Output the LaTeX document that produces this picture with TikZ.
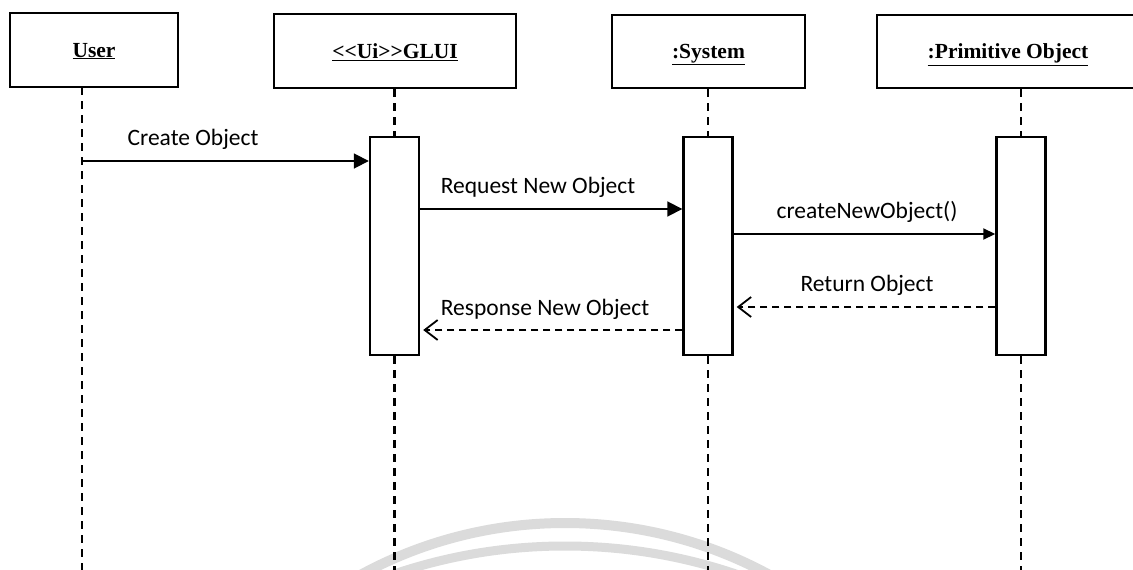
\documentclass[tikz,border=0pt]{standalone}
\usepackage{fontspec}
\setmainfont{Liberation Serif}
\newfontfamily\lab{Carlito}
\usetikzlibrary{arrows.meta}
\begin{document}
\begin{tikzpicture}[x=1pt,y=-1pt,
  hbox/.style={draw,line width=2.4pt,inner sep=0pt,text depth=0pt,font=\fontsize{21.5}{21.5}\selectfont\bfseries},
  act/.style={draw,line width=2.4pt,fill=white,minimum width=49pt,minimum height=218pt,inner sep=0pt},
  life/.style={line width=2.2pt,dash pattern=on 8pt off 6pt},
  msg/.style={line width=1.8pt,-{Triangle[length=15pt,width=15pt]}},
  msgs/.style={line width=1.8pt,-{Triangle[length=12pt,width=11pt]}},
  ret/.style={line width=1.8pt,dash pattern=on 7pt off 5pt,shorten >=3pt,-{Straight Barb[length=13pt,width=20pt,line width=1.8pt]}},
  lbl/.style={font=\lab\fontsize{23.5}{23.5}\selectfont,inner sep=0pt,anchor=base},
  wm/.style={draw=black!14}]
\useasboundingbox (0,0) rectangle (1133,570);
\clip (0,0) rectangle (1133,570);
\fill[white] (0,0) rectangle (1133,570);
% watermark arcs
\draw[wm,line width=10pt] (565,951) circle[radius=428pt];
\draw[wm,line width=9pt] (565,1078) circle[radius=532pt];
% header boxes
\node[hbox,minimum width=168pt,minimum height=74pt] (user) at (94,50) {\underline{User}};
\node[hbox,minimum width=242pt,minimum height=74pt] (glui) at (395,51) {\underline{{<}{<}Ui{>}{>}GLUI}};
\node[hbox,minimum width=193pt,minimum height=73pt] (sys) at (708.5,51.5) {\underline{:System}};
\node[hbox,minimum width=262pt,minimum height=73pt] (prim) at (1008,51.5) {\underline{:Primitive Object}};
% activations
\node[act] (a1) at (394.5,246) {};
\node[act] (a2) at (708,246) {};
\node[act] (a3) at (1021,246) {};
% lifeline coordinates
\coordinate (utop) at (82,87);
\coordinate (ubot) at (82,570);
\coordinate (gbot) at (394.5,570);
\coordinate (sbot) at (708,570);
\coordinate (pbot) at (1021,570);
\draw[life] (utop) -- (ubot);
\draw[life] (a1.north |- glui.south) -- (a1.north);
\draw[life] (a1.south) -- (gbot);
\draw[life] (a2.north |- sys.south) -- (a2.north);
\draw[life] (a2.south) -- (sbot);
\draw[life] (a3.north |- prim.south) -- (a3.north);
\draw[life] (a3.south) -- (pbot);
% messages
\draw[msg] (utop |- 0,161) -- (a1.west |- 0,161);
\draw[msg] (a1.east |- 0,209) -- (a2.west |- 0,209);
\draw[msgs] (a2.east |- 0,234) -- (a3.west |- 0,234);
\draw[ret] (a3.west |- 0,307) -- (a2.east |- 0,307);
\draw[ret] (a2.west |- 0,330) -- (a1.east |- 0,330);
% labels
\node[lbl] (l1) at (193,145) {Create Object};
\node[lbl] (l2) at (538,193) {Request New Object};
\node[lbl] (l3) at (867,218) {createNewObject()};
\node[lbl] (l4) at (867,291) {Return Object};
\node[lbl] (l5) at (545,315) {Response New Object};
\end{tikzpicture}
\end{document}
